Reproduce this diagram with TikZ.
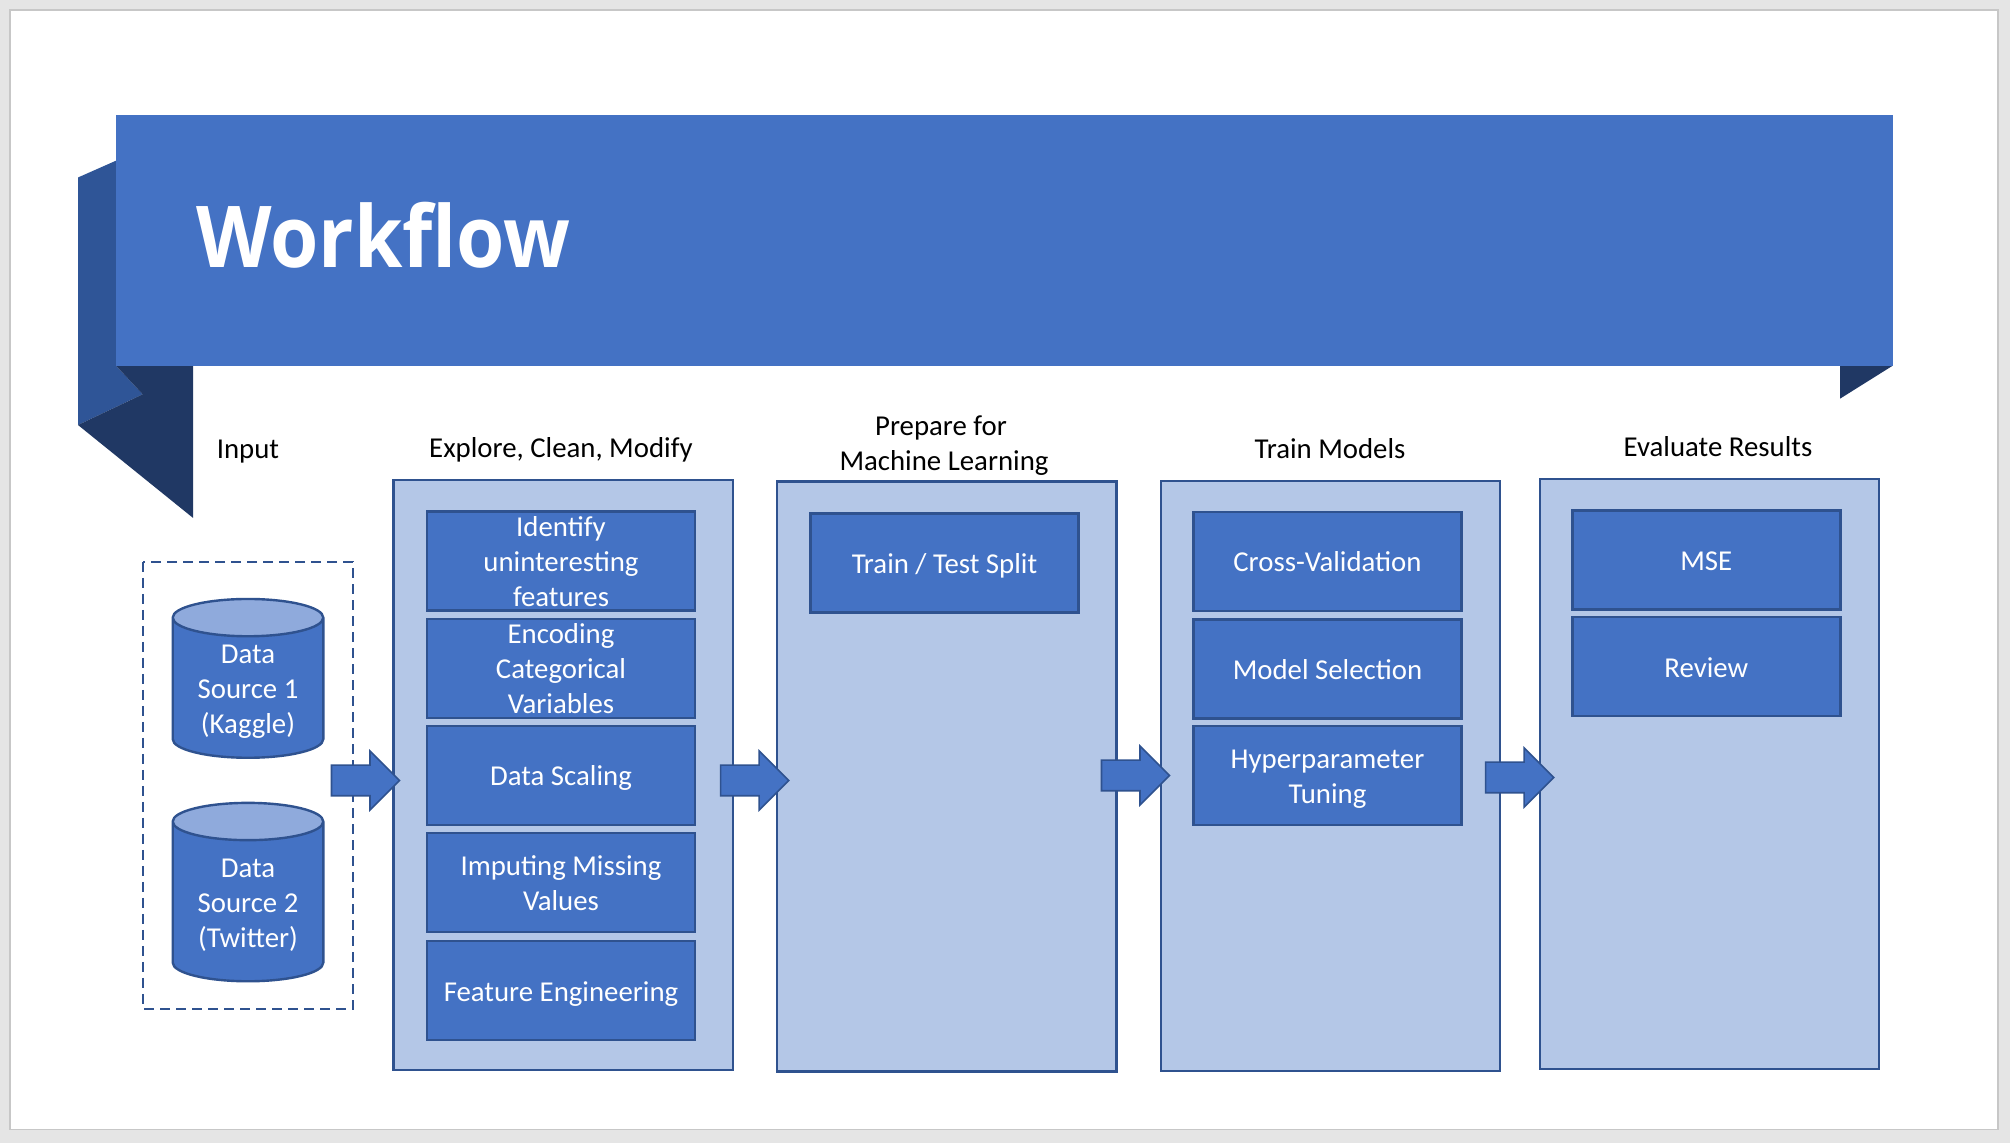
\documentclass[tikz,border=0pt]{standalone}
\usepackage{fontspec}
\setmainfont{Carlito}
\newfontfamily\titlefont[FakeStretch=0.915]{Open Sans}
\usepackage{xcolor}
\usetikzlibrary{shapes.geometric, shapes.arrows}
\definecolor{edgeblue}{HTML}{2F528F}
\definecolor{boxblue}{HTML}{4472C4}
\definecolor{panelblue}{HTML}{B4C7E7}
\definecolor{lidblue}{HTML}{8FAADC}
\definecolor{foldblue}{HTML}{2F5597}
\definecolor{darkblue}{HTML}{203864}
\newcommand{\bl}{\rule[-3.5pt]{0pt}{17.5pt}}
\tikzset{
	slidefont/.style={font=\fontsize{14.4}{17.5}\selectfont},
	panel/.style={draw=edgeblue, fill=panelblue, line width=1.2pt, minimum width=169.7pt, minimum height=295pt, inner sep=0pt},
	stepbox/.style={draw=edgeblue, fill=boxblue, line width=1.2pt, text=white, slidefont, align=center, minimum width=134pt, minimum height=49.5pt, inner xsep=0pt, inner ysep=-2pt},
	heading/.style={slidefont, anchor=base, inner sep=0pt},
	bigarrow/.style={single arrow, draw=edgeblue, fill=boxblue, line width=0.8pt, minimum height=34pt, single arrow head extend=7.1pt, inner xsep=0pt, inner ysep=7.25pt},
	source/.style={cylinder, shape border rotate=90, shape aspect=0.37, draw=edgeblue, line width=1.2pt, cylinder uses custom fill, cylinder body fill=boxblue, cylinder end fill=lidblue, text=white, slidefont, align=center, minimum width=75.3pt, inner xsep=0pt, inner ysep=-2.5pt}
}
\begin{document}
\begin{tikzpicture}[x=0.5pt, y=-0.5pt]
	\useasboundingbox (0,0) rectangle (2010,1143);
	\fill[black!10] (0,0) rectangle (2010,1143);
	\filldraw[fill=white, draw=black!22, line width=0.8pt] (10,10) rectangle (1998,1129.5);
	% ribbon
	\fill[foldblue] (78,177.5) -- (116,160.7) -- (116,365.7) -- (142.7,394.3) -- (78,425) -- cycle;
	\fill[darkblue] (116,365.7) -- (193,365.7) -- (193,517.9) -- (78,425) -- (142.7,394.3) -- cycle;
	\fill[darkblue] (1840,365.7) -- (1892.7,365.7) -- (1840,398.7) -- cycle;
	\fill[boxblue] (116,115) rectangle (1892.7,365.7);
	\node[text=white, anchor=base west, inner sep=0pt, font=\titlefont\bfseries\fontsize{42.7}{50}\selectfont] (title) at (196,268) {Workflow};
	% headings
	\node[heading] (input) at (248,458.5) {Input};
	\node[heading] (explore) at (561,457.5) {Explore, Clean, Modify};
	\node[heading, anchor=center, align=center] (prepare) at (944,443) {\bl Prepare for\kern3pt\\\bl Machine Learning};
	\node[heading] (train) at (1330,458.7) {Train Models};
	\node[heading] (evaluate) at (1718,456.7) {Evaluate Results};
	% input sources
	\draw[edgeblue, line width=1pt, dash pattern=on 5pt off 3pt] (143,562) rectangle (353,1009);
	\node[source, minimum height=79.4pt] (source1) at (248,688.3) {\bl Data\\\bl Source 1\\\bl (Kaggle)};
	\node[source, minimum height=89.2pt] (source2) at (248,902) {\bl Data\\\bl Source 2\\\bl (Twitter)};
	% panels
	\foreach \x/\y/\name in {563.3/775/explorepanel, 946.8/776.7/preppanel, 1330.5/775.8/trainpanel, 1709.5/773.8/evalpanel}
	{
		\node[panel] (\name) at (\x,\y) {};
	}
	% steps
	\node[stepbox] (identify) at (561,561) {\bl Identify\\\bl uninteresting\\\bl features};
	\node[stepbox] (encoding) at (561,668.5) {\bl Encoding\\\bl Categorical\\\bl Variables};
	\node[stepbox] (scaling) at (561,775.3) {\bl Data Scaling};
	\node[stepbox] (imputing) at (561,882.3) {\bl Imputing Missing\\\bl Values};
	\node[stepbox] (engineering) at (561,990.8) {\bl Feature Engineering};
	\node[stepbox] (split) at (944.5,563) {\bl Train / Test Split};
	\node[stepbox] (crossval) at (1327.5,561.3) {\bl Cross-Validation};
	\node[stepbox] (selection) at (1327.5,669.2) {\bl Model Selection};
	\node[stepbox] (tuning) at (1327.5,775.8) {\bl Hyperparameter\\\bl Tuning};
	\node[stepbox] (mse) at (1706.3,560) {\bl MSE};
	\node[stepbox] (review) at (1706.3,666.8) {\bl Review};
	% block arrows
	\foreach \x/\y[count=\iArrow] in {357.8/780.5, 747/780.5, 1127.8/775.5, 1512/777.5}
	{
		\node[bigarrow] (arrow\iArrow) at (\x,\y) {};
	}
\end{tikzpicture}
\end{document}
